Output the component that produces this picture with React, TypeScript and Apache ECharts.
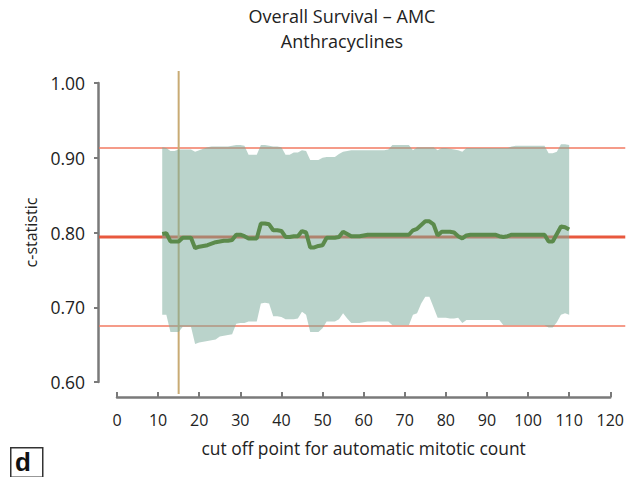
import React, { useEffect, useRef } from "react";
import * as echarts from "echarts";

const cutoffs = [
  11, 12, 13, 14, 15, 16, 17, 18, 19, 20, 21, 22, 23, 24, 25, 26, 27, 28, 29, 30,
  31, 32, 33, 34, 35, 36, 37, 38, 39, 40, 41, 42, 43, 44, 45, 46, 47, 48, 49, 50,
  51, 52, 53, 54, 55, 56, 57, 58, 59, 60, 61, 62, 63, 64, 65, 66, 67, 68, 69, 70,
  71, 72, 73, 74, 75, 76, 77, 78, 79, 80, 81, 82, 83, 84, 85, 86, 87, 88, 89, 90,
  91, 92, 93, 94, 95, 96, 97, 98, 99, 100, 101, 102, 103, 104, 105, 106, 107, 108, 109, 110,
];

const cStatistic = [
  0.798, 0.799, 0.788, 0.788, 0.788, 0.793, 0.793, 0.793, 0.779, 0.781,
  0.782, 0.783, 0.785, 0.787, 0.788, 0.789, 0.789, 0.790, 0.797, 0.797,
  0.795, 0.792, 0.792, 0.792, 0.812, 0.812, 0.811, 0.803, 0.803, 0.802,
  0.794, 0.794, 0.795, 0.795, 0.802, 0.800, 0.780, 0.780, 0.782, 0.783,
  0.793, 0.793, 0.793, 0.794, 0.801, 0.798, 0.795, 0.795, 0.795, 0.796,
  0.797, 0.797, 0.797, 0.797, 0.797, 0.797, 0.797, 0.797, 0.797, 0.797,
  0.797, 0.803, 0.805, 0.810, 0.815, 0.815, 0.811, 0.796, 0.801, 0.801,
  0.801, 0.800, 0.795, 0.792, 0.796, 0.797, 0.797, 0.797, 0.797, 0.797,
  0.797, 0.797, 0.795, 0.794, 0.795, 0.797, 0.797, 0.797, 0.797, 0.797,
  0.797, 0.797, 0.797, 0.797, 0.788, 0.788, 0.798, 0.808, 0.807, 0.804,
];

const upperCI = [
  0.914, 0.913, 0.909, 0.909, 0.911, 0.911, 0.911, 0.911, 0.908, 0.910,
  0.912, 0.914, 0.915, 0.915, 0.915, 0.915, 0.915, 0.916, 0.917, 0.917,
  0.916, 0.904, 0.904, 0.904, 0.917, 0.917, 0.916, 0.915, 0.915, 0.914,
  0.904, 0.904, 0.907, 0.907, 0.910, 0.909, 0.897, 0.897, 0.897, 0.900,
  0.901, 0.901, 0.901, 0.905, 0.908, 0.909, 0.910, 0.910, 0.910, 0.910,
  0.910, 0.910, 0.910, 0.910, 0.910, 0.911, 0.917, 0.917, 0.917, 0.917,
  0.917, 0.910, 0.914, 0.914, 0.914, 0.914, 0.914, 0.910, 0.913, 0.913,
  0.912, 0.911, 0.910, 0.908, 0.913, 0.913, 0.913, 0.913, 0.913, 0.913,
  0.913, 0.913, 0.913, 0.913, 0.913, 0.915, 0.916, 0.916, 0.916, 0.916,
  0.916, 0.916, 0.916, 0.916, 0.906, 0.906, 0.908, 0.918, 0.918, 0.917,
];

const lowerCI = [
  0.690, 0.690, 0.667, 0.667, 0.667, 0.674, 0.674, 0.674, 0.651, 0.653,
  0.654, 0.655, 0.656, 0.657, 0.661, 0.662, 0.663, 0.664, 0.678, 0.679,
  0.679, 0.681, 0.681, 0.681, 0.705, 0.706, 0.705, 0.688, 0.688, 0.687,
  0.684, 0.684, 0.684, 0.685, 0.694, 0.690, 0.667, 0.667, 0.667, 0.672,
  0.681, 0.681, 0.681, 0.684, 0.692, 0.685, 0.679, 0.679, 0.679, 0.680,
  0.681, 0.681, 0.681, 0.681, 0.681, 0.681, 0.676, 0.676, 0.676, 0.676,
  0.676, 0.690, 0.692, 0.705, 0.714, 0.714, 0.700, 0.686, 0.686, 0.686,
  0.685, 0.685, 0.686, 0.679, 0.683, 0.683, 0.683, 0.683, 0.683, 0.683,
  0.683, 0.683, 0.683, 0.676, 0.676, 0.676, 0.676, 0.676, 0.676, 0.676,
  0.676, 0.676, 0.676, 0.676, 0.673, 0.673, 0.680, 0.690, 0.692, 0.690,
];

// reference levels: upper CI, c-statistic, lower CI of the whole cohort
const refLevels = [0.913, 0.794, 0.675];
// chosen cut-off
const chosenCutoff = [15];

const FONT = "Open Sans";

export default function App() {
  const ref = useRef<HTMLDivElement>(null);
  useEffect(() => {
    if (!ref.current) return;
    const chart = echarts.init(ref.current, null, { renderer: "svg" });
    const bandRows = cutoffs.map((x, i) => [x, lowerCI[i], upperCI[i]]);
    const line = cutoffs.map((x, i) => [x, cStatistic[i]]);

    chart.setOption({
      animation: false,
      textStyle: { fontFamily: FONT },
      title: {
        text: "Overall Survival – AMC\nAnthracyclines",
        left: 342,
        top: 3,
        padding: 0,
        textAlign: "center",
        textStyle: {
          fontFamily: FONT,
          fontSize: 18,
          fontWeight: "normal",
          color: "#222",
          lineHeight: 25,
        },
      },
      grid: { left: 117, right: 16, top: 83, bottom: 95 },
      xAxis: {
        type: "value",
        min: 0,
        max: 120,
        interval: 10,
        offset: 15,
        name: "cut off point for automatic mitotic count",
        nameLocation: "middle",
        nameGap: 42,
        nameTextStyle: { fontFamily: FONT, fontSize: 17.4, color: "#222" },
        axisLine: { onZero: false, lineStyle: { color: "#7a7a7a", width: 2.5 } },
        axisTick: { inside: true, length: 5, lineStyle: { color: "#7a7a7a", width: 2 } },
        axisLabel: { margin: 15, fontFamily: FONT, fontSize: 16, color: "#222" },
        splitLine: { show: false },
      },
      yAxis: {
        type: "value",
        min: 0.6,
        max: 1.0,
        interval: 0.1,
        offset: 19,
        name: "c-statistic",
        nameLocation: "middle",
        nameRotate: 90,
        nameGap: 55,
        nameTextStyle: { fontFamily: FONT, fontSize: 16, color: "#222" },
        axisLine: { show: true, onZero: false, lineStyle: { color: "#7a7a7a", width: 2.5 } },
        axisTick: { show: true, length: 4, lineStyle: { color: "#7a7a7a", width: 2 } },
        axisLabel: {
          margin: 13,
          fontFamily: FONT,
          fontSize: 17.5,
          color: "#222",
          formatter: (v: number) => v.toFixed(2),
        },
        splitLine: { show: false },
      },
      series: [
        {
          type: "custom",
          name: "reference",
          z: 1,
          silent: true,
          data: refLevels.map((v) => [0, v]),
          renderItem: (params: any, api: any) => {
            const p0 = api.coord([0, api.value(1)]);
            const p1 = api.coord([120, api.value(1)]);
            const mid = params.dataIndex === 1;
            return {
              type: "line",
              shape: { x1: p0[0] - 18, y1: p0[1], x2: p1[0] + 15, y2: p1[1] },
              style: {
                stroke: mid ? "#E8583E" : "#F27A62",
                lineWidth: mid ? 3 : 1.6,
              },
            };
          },
        },
        {
          type: "custom",
          name: "cutoff",
          z: 1,
          silent: true,
          data: chosenCutoff.map((v) => [v, 1.0]),
          renderItem: (params: any, api: any) => {
            const top = api.coord([api.value(0), 1.0]);
            const bot = api.coord([api.value(0), 0.6]);
            return {
              type: "line",
              shape: { x1: top[0], y1: top[1] - 12, x2: bot[0], y2: bot[1] + 12 },
              style: { stroke: "#C9AB74", lineWidth: 2 },
            };
          },
        },
        {
          type: "custom",
          name: "95% CI",
          z: 2,
          silent: true,
          data: bandRows,
          encode: { x: 0, y: [1, 2] },
          renderItem: (params: any, api: any) => {
            if (params.dataIndex !== 0) return null;
            const upper = bandRows.map((r) => api.coord([r[0], r[2]]));
            const lower = bandRows.map((r) => api.coord([r[0], r[1]])).reverse();
            return {
              type: "polygon",
              shape: { points: upper.concat(lower) },
              style: { fill: "#7AAA9B", opacity: 0.52 },
            };
          },
        },
        {
          type: "line",
          name: "c-statistic",
          z: 3,
          data: line,
          showSymbol: false,
          lineStyle: { color: "#5B8A4B", width: 4 },
          silent: true,
        },
      ],
      graphic: [
        {
          type: "rect",
          left: 10,
          top: 447,
          shape: { x: 0, y: 0, width: 32, height: 29.5 },
          style: { fill: "#fff", stroke: "#333", lineWidth: 1.5 },
        },
        {
          type: "text",
          left: 15,
          top: 449,
          style: {
            text: "d",
            fontFamily: "Liberation Sans",
            fontWeight: "bold",
            fontSize: 26,
            lineHeight: 26,
            fill: "#111",
          },
        },
      ],
    });
    return () => chart.dispose();
  }, []);
  return (
    <div
      ref={ref}
      style={{ position: "fixed", left: 0, top: 0, width: 627, height: 477, background: "#fff" }}
    />
  );
}
